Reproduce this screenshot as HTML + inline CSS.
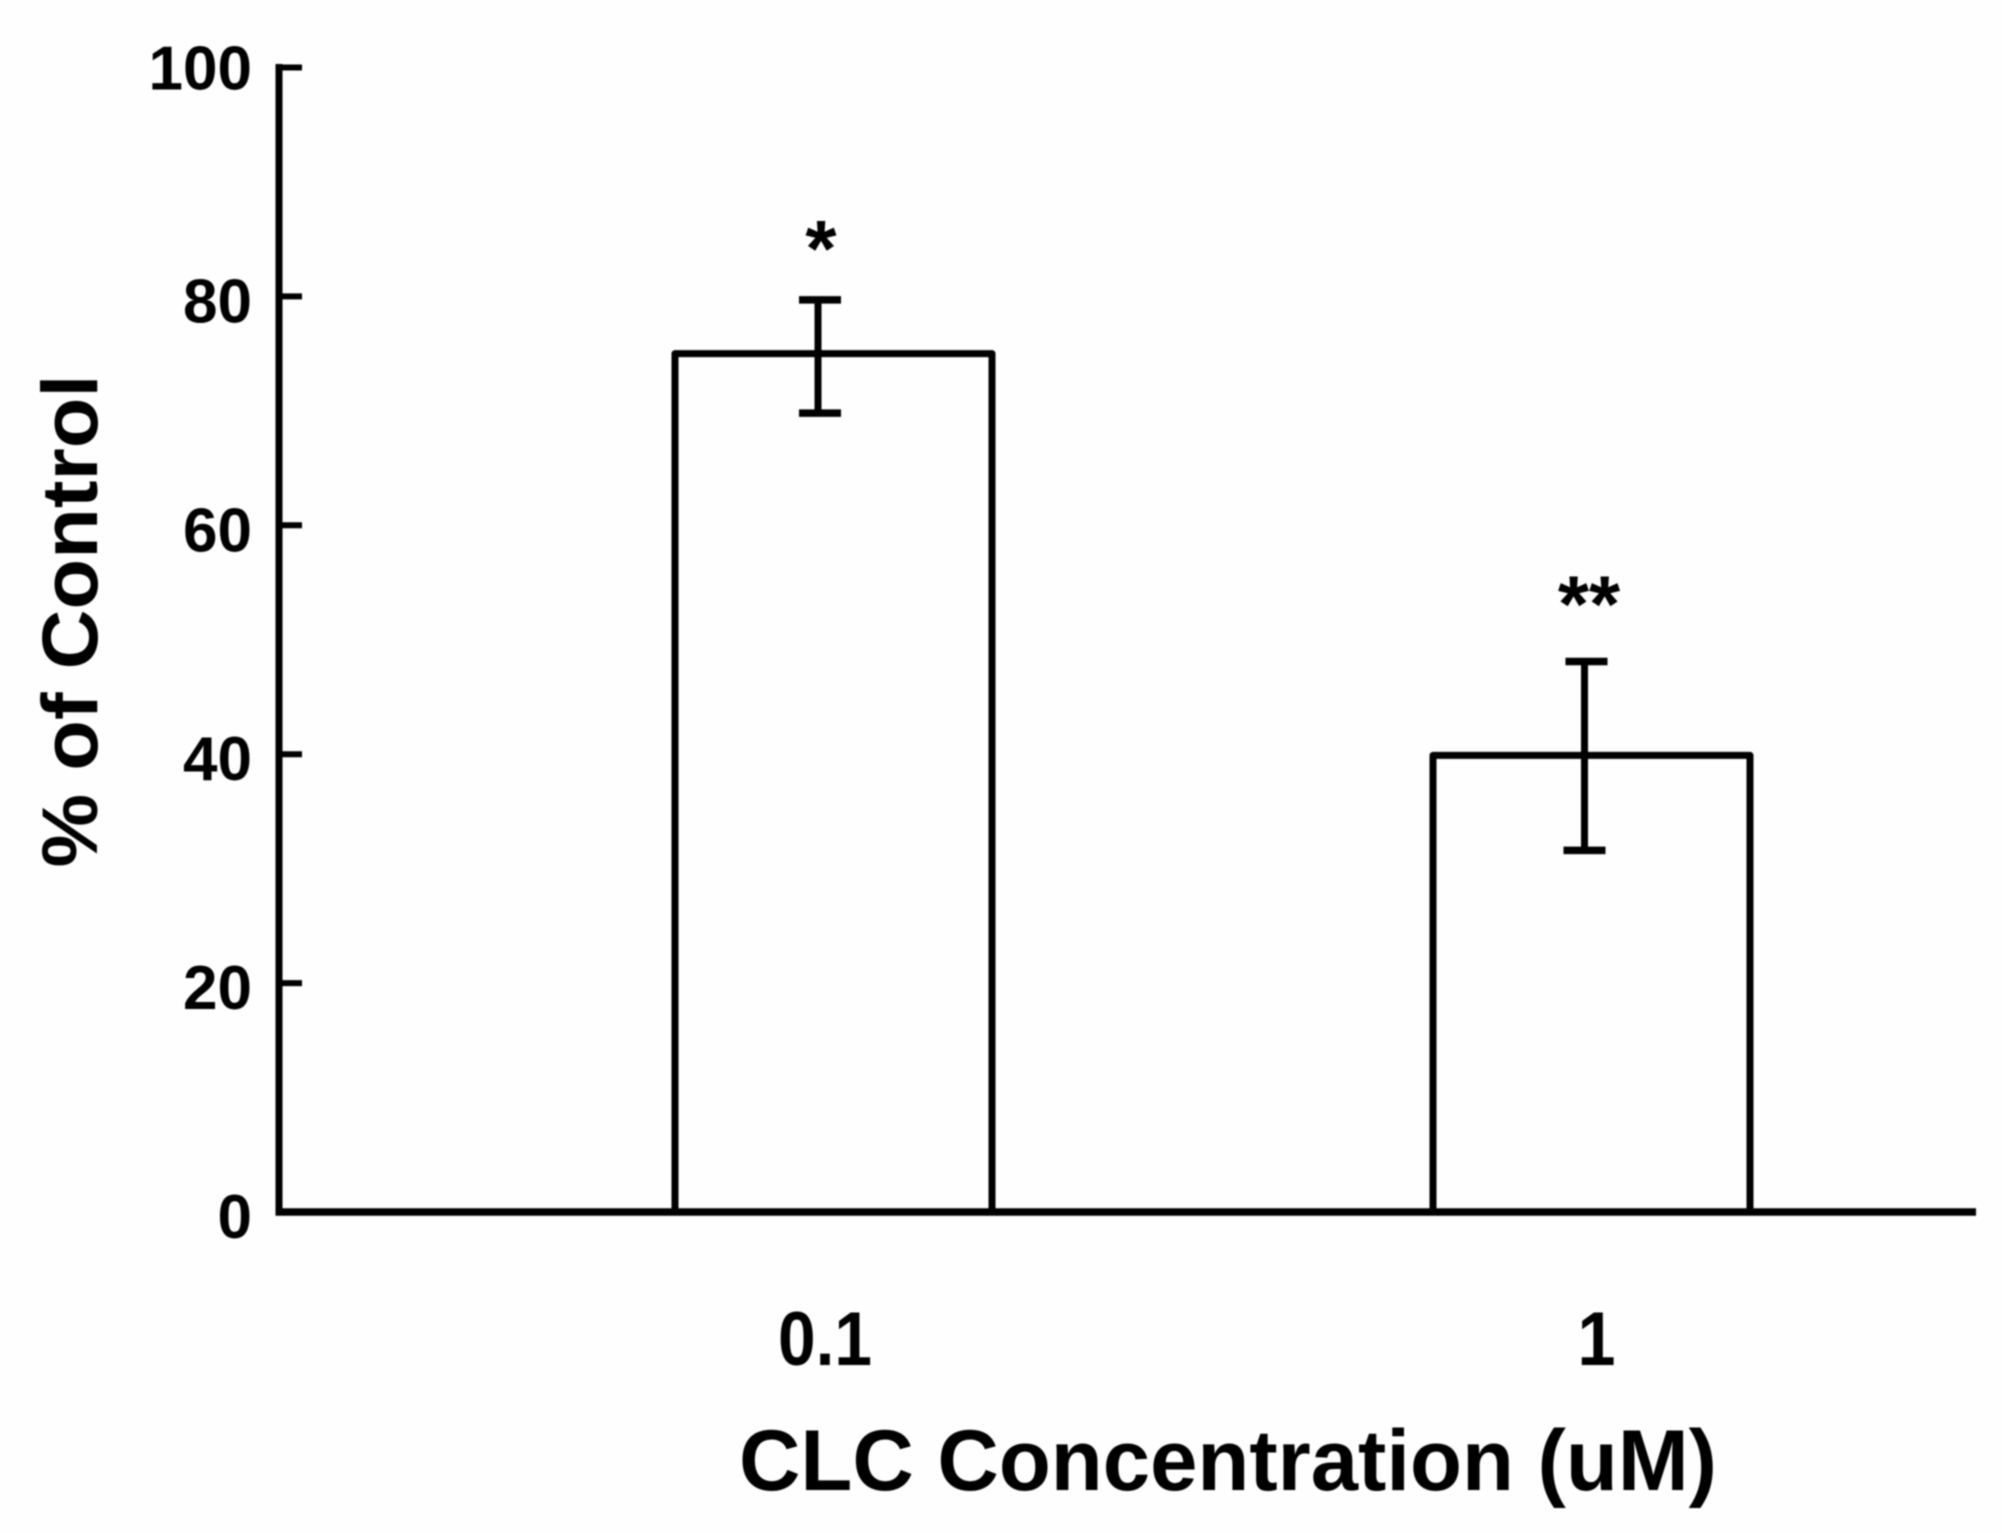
<!DOCTYPE html>
<html lang="en">
<head>
<meta charset="utf-8">
<title>CLC Concentration bar chart</title>
<style>
  html, body { margin: 0; padding: 0; background: #fefefe; }
  body { width: 2002px; height: 1533px; overflow: hidden; }
  svg { display: block; filter: blur(0.7px); }
  text { font-family: "Liberation Sans", Arial, sans-serif; font-weight: bold; fill: #000; }
</style>
</head>
<body>
<svg id="chart" xmlns="http://www.w3.org/2000/svg" width="2002" height="1533" viewBox="0 0 2002 1533">
  <text x="0" y="0" font-size="79" textLength="493" lengthAdjust="spacingAndGlyphs" transform="translate(97 867.5) rotate(-90)">% of Control</text>
  <text x="739" y="1490" font-size="86" textLength="978" lengthAdjust="spacingAndGlyphs">CLC Concentration (uM)</text>
</svg>
<script>
const categories = ['0.1', '1'];
const seriesValues = [75, 39.9];
const errorUpper = [79.7, 48.1];
const errorLower = [69.8, 31.6];
const significance = ['*', '**'];
const yTicks = [0, 20, 40, 60, 80, 100];

const svg = document.getElementById('chart');
const NS = 'http://www.w3.org/2000/svg';
const STROKE = 7;
const Y_ZERO = 1212;
const Y_UNIT = 11.445;
const AXIS_X = 279;
const AXIS_END = 1976;
const BAR_WIDTH = 317;

function yScale(v) { return Y_ZERO - v * Y_UNIT; }
function xCenter(i) { return 833.5 + 758 * i; }
function errX(i) { return xCenter(i) - 15.5 + 8.5 * i; }

function line(x1, y1, x2, y2, w) {
  const el = document.createElementNS(NS, 'line');
  el.setAttribute('x1', x1);
  el.setAttribute('y1', y1);
  el.setAttribute('x2', x2);
  el.setAttribute('y2', y2);
  el.setAttribute('stroke', '#000');
  el.setAttribute('stroke-width', w);
  svg.appendChild(el);
  return el;
}
function label(str, x, y, size, anchor) {
  const el = document.createElementNS(NS, 'text');
  el.setAttribute('x', x);
  el.setAttribute('y', y);
  el.setAttribute('font-size', size);
  el.setAttribute('text-anchor', anchor);
  el.textContent = str;
  svg.appendChild(el);
  return el;
}

categories.forEach(function (cat, i) {
  const cx = xCenter(i);
  const top = yScale(seriesValues[i]);

  const bar = document.createElementNS(NS, 'path');
  bar.setAttribute('d', 'M' + (cx - BAR_WIDTH / 2) + ' ' + Y_ZERO + 'V' + top + 'H' + (cx + BAR_WIDTH / 2) + 'V' + Y_ZERO);
  bar.setAttribute('fill', '#fefefe');
  bar.setAttribute('stroke', '#000');
  bar.setAttribute('stroke-width', STROKE);
  bar.setAttribute('stroke-linejoin', 'round');
  
  
  svg.appendChild(bar);

  const ex = errX(i);
  const stem = line(ex, yScale(errorUpper[i]), ex, yScale(errorLower[i]), STROKE);
  
  

  const capTop = line(ex - 21 + 2, yScale(errorUpper[i]), ex + 21 + 2, yScale(errorUpper[i]), STROKE + 0.5);
  
  

  const capBottom = line(ex - 21 + 2 - 2 * i, yScale(errorLower[i]), ex + 21 + 2 - 2 * i, yScale(errorLower[i]), STROKE + 0.5);
  
  

  const star = label(significance[i], ex + 3 + i * 1.5, yScale(errorUpper[i]) - 24 - 6 * i, 80, 'middle');
  
  

  const catLabel = label(cat, cx - 8.5 + 13.5 * i, 1365, 76, 'middle');
  catLabel.setAttribute('textLength', cat.length > 1 ? 94 : 38);
  catLabel.setAttribute('lengthAdjust', 'spacingAndGlyphs');
  
  
});

const yAxis = line(AXIS_X, yScale(100) - 3.5, AXIS_X, Y_ZERO + 3.5, STROKE);



const xAxis = line(AXIS_X - 3.5, Y_ZERO, AXIS_END, Y_ZERO, STROKE + 0.5);



yTicks.forEach(function (t) {
  const y = yScale(t);
  if (t !== 0) {
    const tick = line(AXIS_X, y, 302, y, 6);
    
    
  }
  const tl = label(String(t), 252, y + (t === 100 ? 22 : 26), 62, 'end');
  
  
});
</script>
</body>
</html>
